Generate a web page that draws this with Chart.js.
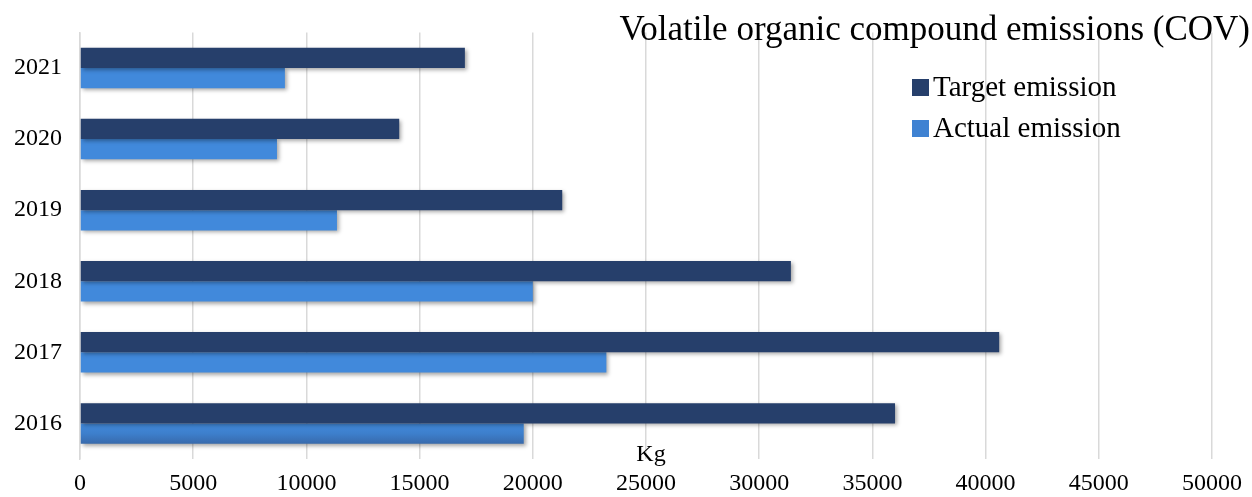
<!DOCTYPE html>
<html>
<head>
<meta charset="utf-8">
<script src="https://cdn.jsdelivr.net/npm/chart.js@4.4.1/dist/chart.umd.min.js"></script>
<style>
  html, body { margin: 0; padding: 0; background: #fff; }
  #wrap { width: 1252px; height: 497px; position: relative; }
</style>
</head>
<body>
<div id="wrap"><canvas id="chart"></canvas></div>
<script>
// values (kg)
var years = ['2021', '2020', '2019', '2018', '2017', '2016'];
var targetEmission = [17000, 14100, 21300, 31400, 40600, 36000];
var actualEmission = [9050, 8700, 11350, 20000, 23250, 19600];
var xTicks = [0, 5000, 10000, 15000, 20000, 25000, 30000, 35000, 40000, 45000, 50000];

var titleText = 'Volatile organic compound emissions (COV)';
var unitText = 'Kg';
var serif = '"Liberation Serif", "Times New Roman", serif';

// little drop shadow + gradient on the light bars, like the office chart
var barLook = {
  id: 'barLook',
  beforeDatasetsDraw: function (chart) {
    var c = chart.ctx;
    var meta = chart.getDatasetMeta(1);
    meta.data.forEach(function (bar) {
      var h = bar.height;
      var g = c.createLinearGradient(0, bar.y - h / 2, 0, bar.y + h / 2);
      g.addColorStop(0, '#4189db');
      g.addColorStop(0.5, '#3d7fcc');
      g.addColorStop(1, '#386aac');
      bar.options.backgroundColor = g;
    });
    c.save();
    c.shadowColor = 'rgba(0,0,0,0.35)';
    c.shadowBlur = 4;
    c.shadowOffsetX = 2;
    c.shadowOffsetY = 2;
  },
  afterDatasetsDraw: function (chart) {
    chart.ctx.restore();
  }
};

// title, legend and unit label sit inside the plot like in the picture
var overlay = {
  id: 'overlay',
  afterDraw: function (chart) {
    var c = chart.ctx;
    var xs = chart.scales.x;
    c.save();
    c.fillStyle = '#000';
    c.textBaseline = 'middle';

    c.font = '35px ' + serif;
    c.textAlign = 'right';
    c.fillText(titleText, 1250, 31);

    c.textAlign = 'left';
    c.font = '29px ' + serif;
    chart.data.datasets.forEach(function (ds, i) {
      var y = 88 + i * 41;
      c.fillStyle = ds.legendColor;
      c.fillRect(912, y - 9, 17, 17);
      c.fillStyle = '#000';
      c.fillText(ds.label, 933, y);
    });

    c.textAlign = 'center';
    c.font = '24px ' + serif;
    c.fillText(unitText, xs.getPixelForValue(25000) + 5, 455);
    c.restore();
  }
};

var ctx = document.getElementById('chart').getContext('2d');
var chart = new Chart(ctx, {
  type: 'bar',
  data: {
    labels: years,
    datasets: [
      {
        label: 'Target emission',
        data: targetEmission,
        backgroundColor: '#263f6b',
        legendColor: '#263f6b',
        borderWidth: 0
      },
      {
        label: 'Actual emission',
        data: actualEmission,
        backgroundColor: '#3d7fcc',
        legendColor: '#3f82d2',
        borderWidth: 0
      }
    ]
  },
  options: {
    indexAxis: 'y',
    responsive: true,
    maintainAspectRatio: false,
    animation: false,
    categoryPercentage: 0.57,
    barPercentage: 1.0,
    layout: { padding: { top: 27, left: 14, right: 12, bottom: 0 } },
    plugins: {
      legend: { display: false },
      title: { display: false },
      tooltip: { enabled: false }
    },
    scales: {
      x: {
        min: 0,
        max: 50000,
        afterBuildTicks: function (axis) {
          axis.ticks = xTicks.map(function (v) { return { value: v }; });
        },
        afterFit: function (axis) { axis.height = 38; },
        grid: { color: '#d9d9d9', lineWidth: 1.5, drawTicks: false },
        border: { display: false },
        ticks: {
          color: '#000',
          font: { family: serif, size: 24 },
          padding: 10,
          maxRotation: 0,
          autoSkip: false,
          callback: function (v) { return v; }
        }
      },
      y: {
        afterFit: function (axis) { axis.width = 66; },
        grid: { display: false, drawTicks: false },
        border: { display: true, color: '#d9d9d9', width: 1.5 },
        ticks: {
          color: '#000',
          font: { family: serif, size: 24 },
          padding: 18
        }
      }
    }
  },
  plugins: [barLook, overlay]
});
</script>
</body>
</html>
